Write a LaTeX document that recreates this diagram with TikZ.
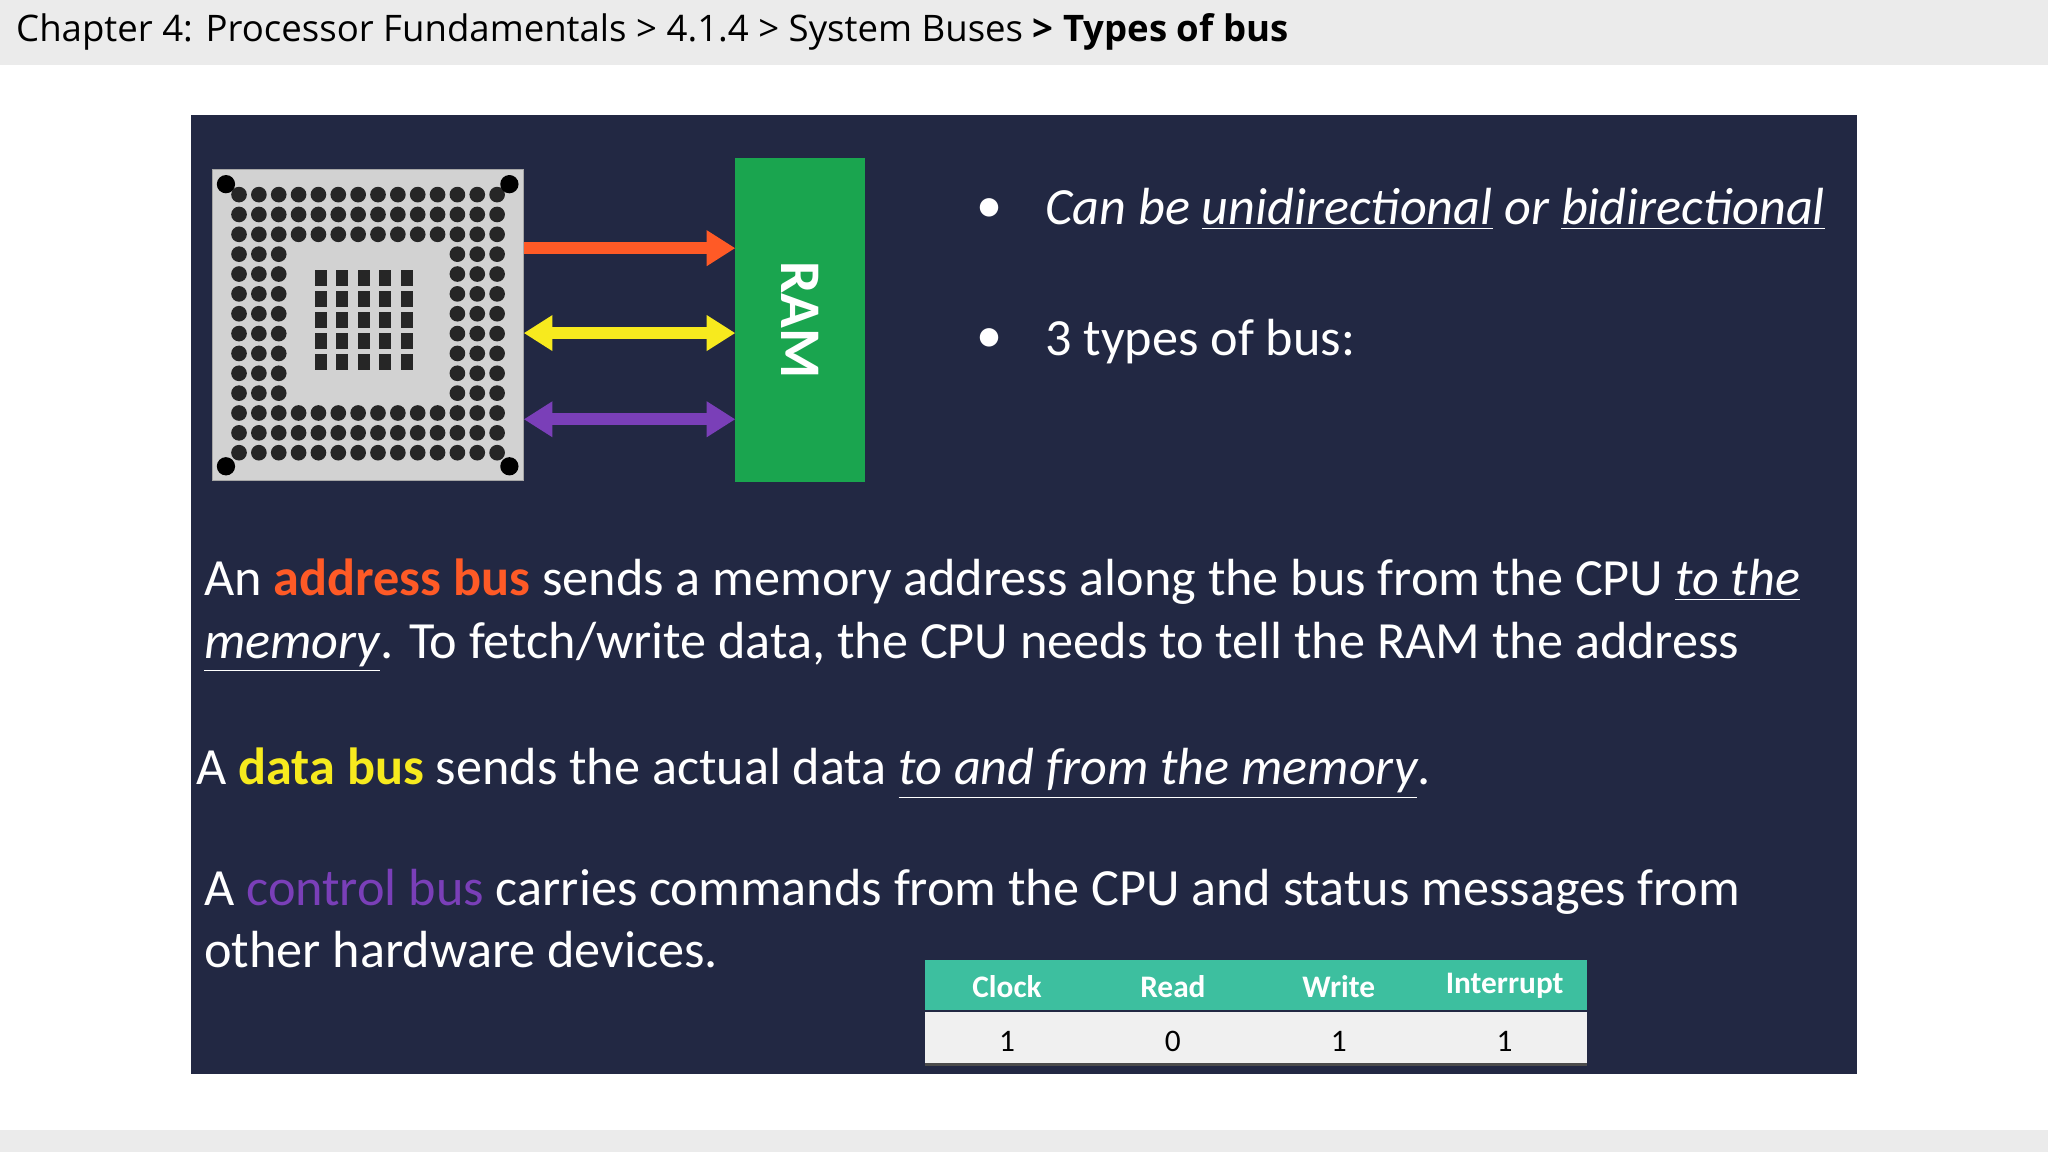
\documentclass[tikz,border=0pt]{standalone}
\usepackage{fontspec}
\setmainfont{Carlito}
\newfontfamily\hdfont{Open Sans}
\definecolor{panel}{HTML}{222843}
\definecolor{hdr}{HTML}{EBEBEB}
\definecolor{ramg}{HTML}{1AA54F}
\definecolor{addr}{HTML}{FF5A26}
\definecolor{datay}{HTML}{F7EA1E}
\definecolor{ctrl}{HTML}{7A3FB8}
\definecolor{teal}{HTML}{3DBF9F}
\definecolor{chip}{HTML}{D2D2D2}
\usetikzlibrary{arrows.meta}
\begin{document}
\begin{tikzpicture}[x=0.5pt,y=-0.5pt,
  txt/.style={anchor=base west,inner sep=0,text=white,font=\fontsize{20}{24}\selectfont},
  bus/.style={line width=4.5pt,-{Triangle[length=11pt,width=13pt]}},
  dbus/.style={line width=4.5pt,{Triangle[length=11pt,width=13pt]}-{Triangle[length=11pt,width=13pt]}},
  cell/.style={inner sep=0,font=\fontsize{12}{14}\selectfont}]
\useasboundingbox (0,0) rectangle (1568,882);
\fill[white] (0,0) rectangle (1568,882);
\fill[hdr] (0,0) rectangle (1568,50);
\fill[hdr] (0,865) rectangle (1568,882);
\node[anchor=base west,inner sep=0,font=\hdfont\fontsize{14}{16}\selectfont] (title) at (12,32) {Chapter 4: Processor Fundamentals > 4.1.4 > System Buses \textbf{> Types of bus}};
\fill[panel] (146,88) rectangle (1422,822);
% chip
\node[draw=gray!70,fill=chip,minimum width=119pt,minimum height=119pt,inner sep=0] (cpu) at (282,249) {};
\foreach \i in {0,...,13}{\foreach \j in {0,...,13}{
  \pgfmathtruncatemacro{\inner}{(\i>2)&&(\i<11)&&(\j>2)&&(\j<11)}
  \ifnum\inner=0 \fill[black!85] (183+\i*15.2,149+\j*15.2) circle (3pt);\fi}}
\foreach \i in {0,...,4}{\foreach \j in {0,...,4}{
  \fill[black!85] (241+\i*16.5,207+\j*16) rectangle ++(9,12);}}
\foreach \p in {(173,141),(390,141),(173,357),(390,357)} \fill[black] \p circle (3.5pt);
% RAM
\node[fill=ramg,minimum width=49.5pt,minimum height=124pt,inner sep=0] (ram) at (612.5,245) {};
\node[rotate=-90,text=white,font=\bfseries\fontsize{22}{24}\selectfont] (ramt) at (ram.center) {RAM};
\coordinate (a1) at (401,190); \coordinate (a2) at (563,190);
\coordinate (d1) at (401,255); \coordinate (d2) at (563,255);
\coordinate (c1) at (401,321); \coordinate (c2) at (563,321);
\draw[bus,addr] (a1) -- (a2);
\draw[dbus,datay] (d1) -- (d2);
\draw[dbus,ctrl] (c1) -- (c2);
% bullets
\node[txt] (b1d) at (747,170) {\textbullet};
\node[txt] (b1) at (800,172) {\itshape Can be \underline{unidirectional} or \underline{bidirectional}};
\node[txt] (b2d) at (747,270) {\textbullet};
\node[txt] (b2) at (800,272) {3 types of bus:};
% paragraphs
\node[txt] (p1) at (156,456) {An \textbf{\color{addr}address bus} sends a memory address along the bus from the CPU \underline{\itshape to the}};
\node[txt] (p1b) at (156,504) {\underline{\itshape memory}. To fetch/write data, the CPU needs to tell the RAM the address};
\node[txt] (p2) at (150,601) {A \textbf{\color{datay}data bus} sends the actual data \underline{\itshape to and from the memory}.};
\node[txt] (p3) at (156,693) {A \textcolor{ctrl}{control bus} carries commands from the CPU and status messages from};
\node[txt] (p3b) at (156,741) {other hardware devices.};
% table
\fill[teal] (708,735) rectangle (1215,773);
\fill[white!94!black] (708,775) rectangle (1215,815);
\draw[black!70,line width=1.2pt] (708,815) -- (1215,815);
\foreach \x/\h/\v [count=\k] in {771/Clock/1,898/Read/0,1025/Write/1,1152/Interrupt/1}{
  \node[cell,text=white,font=\bfseries\fontsize{12}{14}\selectfont] (h\k) at (\x,755) {\h};
  \node[cell] (v\k) at (\x,797) {\v};}
\end{tikzpicture}
\end{document}
